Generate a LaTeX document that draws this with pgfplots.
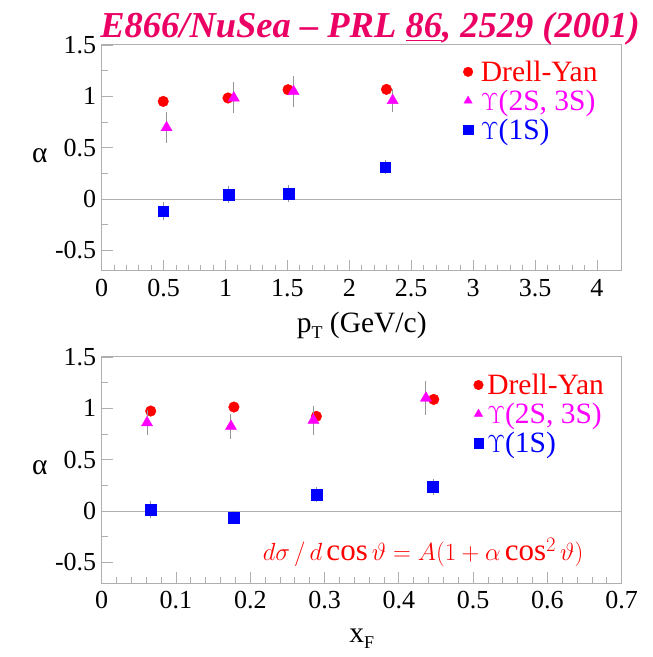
\documentclass[border=0pt]{standalone}
\usepackage{pgfplots}
\pgfplotsset{compat=1.18}
\usepackage{fontspec}
\setmainfont{Liberation Serif}
\definecolor{titlec}{RGB}{235,0,100}
\definecolor{axgray}{RGB}{175,175,175}
\definecolor{errgray}{RGB}{150,150,150}
\definecolor{dyred}{RGB}{255,0,0}
\definecolor{upsmag}{RGB}{255,0,255}
\definecolor{upsblue}{RGB}{0,0,255}
\newcommand{\tfont}{\fontsize{26bp}{30bp}\selectfont}
\newcommand{\lfont}{\fontsize{29.5bp}{30bp}\selectfont}
\pgfplotsset{
  myaxis/.style={
    scale only axis, width=520bp, height=226bp,
    anchor=south west,
    clip mode=individual,
    ymin=-0.7, ymax=1.5,
    ytick={-0.5,0,0.5,1,1.5},
    minor y tick num=1,
    tick pos=left,
    tick align=inside,
    major tick length=11bp, minor tick length=6bp,
    axis line style={axgray, line width=1bp},
    every tick/.style={axgray, line width=0.8bp},
    /pgf/number format/assume math mode=true,
    tick label style={font=\tfont},
    xticklabel style={yshift=-5bp},
    yticklabel style={xshift=-2bp},
    legend cell align=left,
    legend style={draw=none, fill=none, font=\lfont, row sep=5bp,
      anchor=north west, inner sep=0pt,
      nodes={inner ysep=1bp, inner xsep=6bp}},
  },
  dy/.style={only marks, mark=*, mark size=5.3bp, color=dyred, mark options={fill=dyred, draw=dyred},
    error bars/.cd, y dir=both, y explicit, error mark=none,
    error bar style={errgray, line width=1bp}},
  up2/.style={only marks, mark=triangle*, mark size=6.4bp, color=upsmag, mark options={fill=upsmag, draw=upsmag},
    error bars/.cd, y dir=both, y explicit, error mark=none,
    error bar style={errgray, line width=1bp}},
  up1/.style={only marks, mark=square*, mark size=5.4bp, color=upsblue, mark options={fill=upsblue, draw=upsblue},
    error bars/.cd, y dir=both, y explicit, error mark=none,
    error bar style={errgray, line width=1bp}},
}
\begin{document}
\begin{tikzpicture}
\useasboundingbox (0,0) rectangle (653bp,657bp);
% top panel
\begin{axis}[myaxis, at={(101.7bp,386bp)},
  xmin=0, xmax=4.2,
  xtick={0,0.5,1,1.5,2,2.5,3,3.5,4},
  xticklabels={0,0.5,1,1.5,2,2.5,3,3.5,4},
  minor x tick num=4,
  legend style={at={(rel axis cs:0.695,0.935)}, nodes={inner xsep=8bp}},
  legend image post style={mark size=4.8bp},
]
\addplot[axgray, line width=1bp, forget plot] coordinates {(0,0) (4.2,0)};
\addplot[dy] coordinates {
 (0.497,0.951) +- (0,0.03)
 (1.020,0.984) +- (0,0.03)
 (1.505,1.065) +- (0,0.03)
 (2.300,1.068) +- (0,0.03)
};
\addlegendentry{\textcolor{dyred}{Drell-Yan}}
\addplot[up2] coordinates {
 (0.524,0.696) +- (0,0.15)
 (1.067,0.985) +- (0,0.15)
 (1.550,1.047) +- (0,0.15)
 (2.350,0.960) +- (0,0.11)
};
\addlegendentry{\textcolor{upsmag}{$\Upsilon$(2S, 3S)}}
\addplot[up1] coordinates {
 (0.497,-0.117) +- (0,0.09)
 (1.027,0.043) +- (0,0.085)
 (1.508,0.053) +- (0,0.08)
 (2.290,0.310) +- (0,0.07)
};
\addlegendentry{\textcolor{upsblue}{$\Upsilon$(1S)}}
\node[font=\lfont] at (rel axis cs:-0.119,0.51) {α};
\node[font=\lfont] at (rel axis cs:0.5,-0.24) {p\raisebox{-6bp}{\fontsize{18bp}{18bp}\selectfont T} (GeV/c)};
\end{axis}
% bottom panel
\begin{axis}[myaxis, at={(101.7bp,74bp)},
  xmin=0, xmax=0.7,
  xtick={0,0.1,0.2,0.3,0.4,0.5,0.6,0.7},
  xticklabels={0,0.1,0.2,0.3,0.4,0.5,0.6,0.7},
  minor x tick num=4,
  legend style={at={(rel axis cs:0.715,0.93)}, nodes={inner xsep=4bp}},
  legend image post style={mark size=4.8bp},
]
\addplot[axgray, line width=1bp, forget plot] coordinates {(0,0) (0.7,0)};
\addplot[dy] coordinates {
 (0.066,0.974) +- (0,0.03)
 (0.178,1.013) +- (0,0.03)
 (0.289,0.922) +- (0,0.03)
 (0.447,1.087) +- (0,0.03)
};
\addlegendentry{\textcolor{dyred}{Drell-Yan}}
\addplot[up2] coordinates {
 (0.061,0.860) +- (0,0.12)
 (0.174,0.825) +- (0,0.12)
 (0.285,0.885) +- (0,0.14)
 (0.4365,1.100) +- (0,0.165)
};
\addlegendentry{\textcolor{upsmag}{$\Upsilon$(2S, 3S)}}
\addplot[up1] coordinates {
 (0.066,0.016) +- (0,0.08)
 (0.178,-0.061) +- (0,0.06)
 (0.289,0.162) +- (0,0.07)
 (0.446,0.236) +- (0,0.08)
};
\addlegendentry{\textcolor{upsblue}{$\Upsilon$(1S)}}
\node[font=\lfont] at (rel axis cs:-0.119,0.51) {α};
\node[font=\lfont, anchor=base] at (rel axis cs:0.5,-0.262) {x\raisebox{-6bp}{\fontsize{18bp}{18bp}\selectfont F}};
\node[font=\fontsize{31bp}{34bp}\selectfont, text=dyred] at (rel axis cs:0.618,0.135) {$d\sigma\,/\,d\cos\vartheta = A(1+\alpha\cos^2\vartheta)$};
\end{axis}
\node[font=\fontsize{36.5bp}{40bp}\selectfont\bfseries\itshape, text=titlec, anchor=base] at (370bp,619bp) {E866/NuSea -- PRL \underline{86}, 2529 (2001)};
\end{tikzpicture}
\end{document}
